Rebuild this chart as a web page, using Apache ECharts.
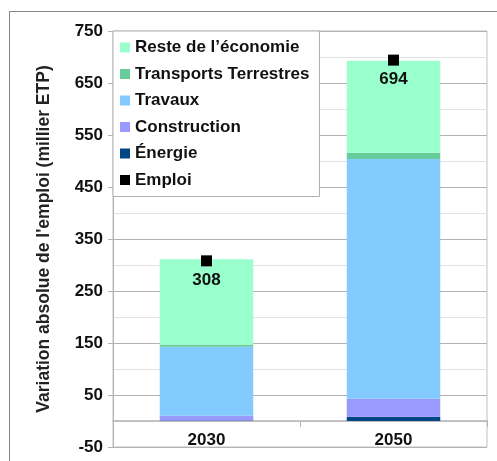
<!DOCTYPE html>
<html><head><meta charset="utf-8">
<script src="https://cdn.jsdelivr.net/npm/echarts@6/dist/echarts.min.js"></script>
<style>
html,body{margin:0;padding:0;background:#fff;}
#frame{position:absolute;left:9px;top:11px;width:600px;height:600px;border-left:1px solid #888;border-top:1px solid #888;}
#c{position:absolute;left:0;top:0;width:497px;height:461px;}
</style></head>
<body><div id="frame"></div><div id="c"></div>
<script>
const categories = ['2030', '2050'];
const energie = [1, 8];
const construction = [9, 35];
const travaux = [133, 461];
const transports = [4, 12];
const reste = [164, 177];
const emploi = [308, 694];
const yTicks = [-50, 750, 100];

const FONT = 'Liberation Sans';
const chart = echarts.init(document.getElementById('c'));
const bar = (name, data, color) => ({
  name, type: 'bar', stack: 'total', data, barWidth: '50%',
  itemStyle: { color }, emphasis: { disabled: true }
});
chart.setOption({
  animation: false,
  textStyle: { fontFamily: FONT },
  grid: { left: 113, top: 31, right: 10, bottom: 14, outerBoundsMode: 'none', containLabel: false,
          show: true, borderColor: '#c0c0c0', borderWidth: 1, backgroundColor: 'transparent' },
  legend: {
    orient: 'vertical', left: 113, top: 31,
    padding: [8, 10, 8, 7], itemGap: 9.5, itemWidth: 10, itemHeight: 10,
    backgroundColor: '#fff', borderColor: '#b0b0b0', borderWidth: 1,
    textStyle: { fontFamily: FONT, fontWeight: 'bold', fontSize: 17, color: '#111' },
    data: [
      { name: 'Reste de l\u2019économie', icon: 'rect' },
      { name: 'Transports Terrestres', icon: 'rect' },
      { name: 'Travaux', icon: 'rect' },
      { name: 'Construction', icon: 'rect' },
      { name: 'Énergie', icon: 'rect' },
      { name: 'Emploi', icon: 'rect' }
    ]
  },
  xAxis: {
    type: 'category', data: categories,
    axisLine: { onZero: true, lineStyle: { color: '#b3b3b3', width: 1.5 } },
    axisTick: { show: true, length: 6, lineStyle: { color: '#b3b3b3' } },
    axisLabel: { fontFamily: FONT, fontWeight: 'bold', fontSize: 17, color: '#111', margin: -15 },
    splitLine: { show: false }
  },
  yAxis: {
    type: 'value', min: yTicks[0], max: yTicks[1], interval: yTicks[2],
    name: 'Variation absolue de l\'emploi (millier ETP)', nameLocation: 'middle', nameGap: 60,
    nameTextStyle: { fontFamily: FONT, fontWeight: 'bold', fontSize: 17.5, color: '#222' },
    axisLine: { show: true, lineStyle: { color: '#b3b3b3' } },
    axisTick: { show: true, length: 5, lineStyle: { color: '#b3b3b3' } },
    axisLabel: { fontFamily: FONT, fontWeight: 'bold', fontSize: 17, color: '#111', margin: 10 },
    splitLine: { show: true, lineStyle: { color: '#b3b3b3', width: 1 } },
    minorTick: { show: false, splitNumber: 2 },
    minorSplitLine: { show: true, lineStyle: { color: '#e3e3e3', width: 1 } }
  },
  series: [
    bar('Énergie', energie, '#004586'),
    bar('Construction', construction, '#9999ff'),
    bar('Travaux', travaux, '#83caff'),
    bar('Transports Terrestres', transports, '#66cc99'),
    bar('Reste de l\u2019économie', reste, '#99ffcc'),
    {
      name: 'Emploi', type: 'scatter', data: emploi, symbol: 'rect', symbolSize: 11,
      itemStyle: { color: '#000', opacity: 1 }, z: 10,
      label: { show: true, position: 'bottom', distance: 5, fontFamily: FONT, fontWeight: 'bold', fontSize: 17, color: '#111' }
    }
  ]
});
</script></body></html>
